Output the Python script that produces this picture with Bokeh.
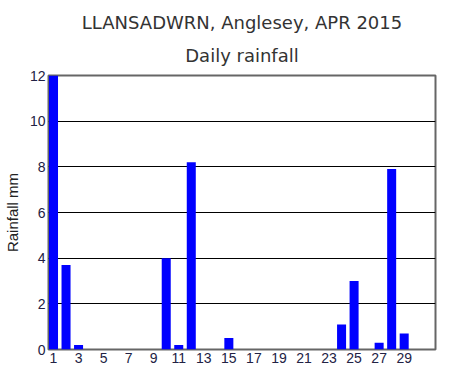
from bokeh.plotting import figure
from bokeh.models import Title, Range1d, FixedTicker
from bokeh.embed import file_html
from bokeh.resources import INLINE

days = list(range(1, 31))
rain = [12.0, 3.7, 0.2, 0, 0, 0, 0, 0, 0, 4.0,
        0.2, 8.2, 0, 0, 0.5, 0, 0, 0, 0, 0,
        0, 0, 0, 1.1, 3.0, 0, 0.3, 7.9, 0.7, 0]
x_ticks = list(range(1, 30, 2))
y_ticks = [0, 2, 4, 6, 8, 10, 12]
title_main = "LLANSADWRN, Anglesey, APR 2015"
title_sub = "Daily rainfall"
y_label = "Rainfall mm"

p = figure(frame_width=387, frame_height=274, output_backend="svg", toolbar_location=None,
           x_range=Range1d(0.6, 31.5), y_range=Range1d(0, 12),
           min_border_left=41, min_border_right=15, min_border_top=75, min_border_bottom=21)
p.title = None
t2 = Title(text=title_sub, align="center", text_font="DejaVu Sans", text_font_size="18px",
           text_font_style="normal", text_color="#333333", standoff=19)
t1 = Title(text=title_main, align="center", text_font="DejaVu Sans", text_font_size="18px",
           text_font_style="normal", text_color="#333333", standoff=1)
p.add_layout(t2, "above")
p.add_layout(t1, "above")

p.vbar(x=days, top=rain, width=0.72, fill_color="#0000FF", line_color=None)

p.xaxis.ticker = FixedTicker(ticks=x_ticks)
p.yaxis.ticker = FixedTicker(ticks=y_ticks)
for ax in (p.xaxis[0], p.yaxis[0]):
    ax.major_tick_line_color = None
    ax.minor_tick_line_color = None
    ax.major_tick_out = 0
    ax.major_tick_in = 0
    ax.axis_line_color = None
    ax.major_label_text_font = "Liberation Sans"
    ax.major_label_text_font_size = "14px"
    ax.major_label_text_color = "#222244"
    ax.major_label_standoff = 3
p.yaxis.axis_label = y_label
p.yaxis.axis_label_text_font = "Liberation Sans"
p.yaxis.axis_label_text_font_size = "15px"
p.yaxis.axis_label_text_font_style = "normal"
p.yaxis.axis_label_text_color = "#222222"
p.yaxis.axis_label_standoff = 6

p.xgrid.grid_line_color = None
p.ygrid.grid_line_color = "#000000"
p.ygrid.grid_line_width = 1
p.outline_line_color = "#666666"
p.outline_line_width = 2
p.background_fill_color = "white"
p.border_fill_color = "white"

open("out.html", "w").write(file_html(p, INLINE))
